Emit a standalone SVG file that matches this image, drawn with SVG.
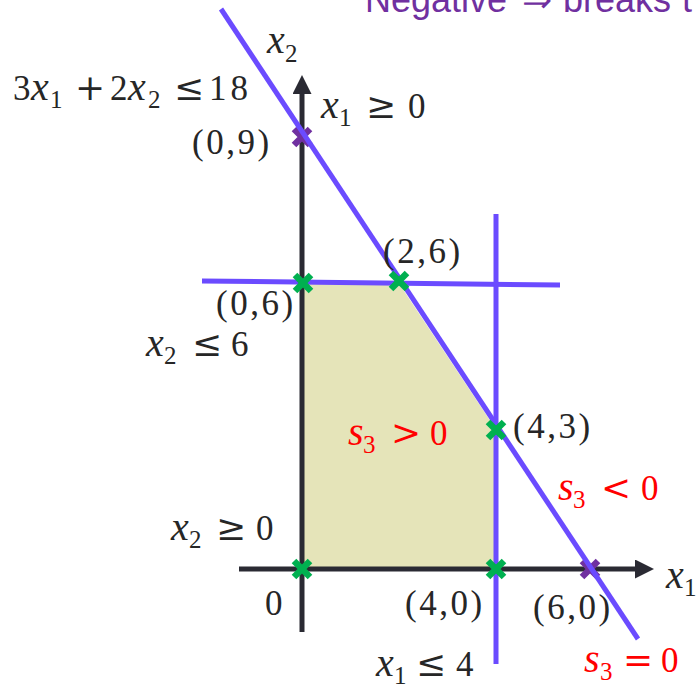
<svg xmlns="http://www.w3.org/2000/svg" xmlns:xlink="http://www.w3.org/1999/xlink" width="697" height="685" viewBox="0 0 697 685">
<style>
.t{font-family:"Liberation Serif","Times New Roman",serif;font-size:35px;fill:#262626}
.i{font-style:italic;font-size:40px}
.sub{font-size:25px}
.op{font-family:"DejaVu Serif","Liberation Serif",serif;font-size:36px}
.c{letter-spacing:2.5px}
.r{fill:#FF0000}
.ax{stroke:#2A2A33;stroke-width:5;fill:none}
.cl{stroke:#6B4BFF;stroke-width:5;fill:none}
.gm{stroke:#00B050;stroke-width:6.5;fill:none}
.pm{stroke:#7030A0;stroke-width:6.5;fill:none}
.hd{font-family:"Liberation Sans",Arial,sans-serif;font-size:36px;fill:#7030A0}
</style>
<defs>
<marker id="arr" markerUnits="userSpaceOnUse" markerWidth="20" markerHeight="20" refX="0" refY="9.5" orient="auto" viewBox="0 0 20 20">
<path d="M0,0 L19,9.5 L0,19 z" fill="#2A2A33"/>
</marker>
<path id="xm" d="M-8,-8 L8,8 M-8,8 L8,-8"/>
</defs>
<rect width="697" height="685" fill="#FFFFFF"/>
<text class="hd" y="12"><tspan x="365">Negative</tspan><tspan x="522">⇒</tspan><tspan x="563">breaks</tspan><tspan x="682">t</tspan></text>
<g id="feasible-region">
<polygon points="303,282 398,282 495,428 495,569 303,569" fill="#E5E4B9"/>
</g>
<g id="connectors">
<line id="y-axis" class="ax" x1="302" y1="632" x2="302" y2="94" marker-end="url(#arr)"/>
<line id="x-axis" class="ax" x1="239" y1="569" x2="635" y2="569" marker-end="url(#arr)"/>
<g id="purple-markers">
<use xlink:href="#xm" class="pm" x="302" y="137"/>
<use xlink:href="#xm" class="pm" x="590" y="569"/>
</g>
<line id="c-diag" class="cl" x1="221" y1="9" x2="638" y2="639"/>
<line id="c-x2le6" class="cl" x1="202" y1="281" x2="560" y2="285"/>
<line id="c-x1le4" class="cl" x1="496" y1="214" x2="496" y2="664"/>
</g>
<g id="vertices">
<use xlink:href="#xm" class="gm" x="303" y="283"/>
<use xlink:href="#xm" class="gm" x="399" y="281"/>
<use xlink:href="#xm" class="gm" x="496" y="430"/>
<use xlink:href="#xm" class="gm" x="302" y="569"/>
<use xlink:href="#xm" class="gm" x="496" y="569"/>
</g>
<g id="labels">
<text class="t"><tspan class="i" x="267" y="53">x</tspan><tspan class="sub" x="285" y="62">2</tspan></text>
<text class="t"><tspan x="13" y="100">3</tspan><tspan class="i" x="31" y="100">x</tspan><tspan class="sub" x="50" y="108">1</tspan><tspan class="op" x="75" y="100">+</tspan><tspan x="110" y="100">2</tspan><tspan class="i" x="128" y="100">x</tspan><tspan class="sub" x="148" y="108">2</tspan><tspan class="op" x="174" y="100">≤</tspan><tspan x="209" y="100" letter-spacing="4">18</tspan></text>
<text class="t"><tspan class="i" x="321" y="118">x</tspan><tspan class="sub" x="339" y="126">1</tspan><tspan class="op" x="366" y="118">≥</tspan><tspan x="408" y="118">0</tspan></text>
<text class="t c" x="192" y="154">(0,9)</text>
<text class="t c" x="383" y="263">(2,6)</text>
<text class="t c" x="216" y="315">(0,6)</text>
<text class="t"><tspan class="i" x="146" y="356">x</tspan><tspan class="sub" x="164" y="364">2</tspan><tspan class="op" x="192" y="356">≤</tspan><tspan x="231" y="356">6</tspan></text>
<text class="t r"><tspan class="i" x="348" y="445">s</tspan><tspan class="sub" x="363" y="453">3</tspan><tspan class="op" x="391" y="445">&gt;</tspan><tspan x="430" y="445">0</tspan></text>
<text class="t c" x="513" y="438">(4,3)</text>
<text class="t r"><tspan class="i" x="558" y="500">s</tspan><tspan class="sub" x="573" y="508">3</tspan><tspan class="op" x="601" y="500">&lt;</tspan><tspan x="641" y="500">0</tspan></text>
<text class="t"><tspan class="i" x="171" y="540">x</tspan><tspan class="sub" x="189" y="548">2</tspan><tspan class="op" x="216" y="540">≥</tspan><tspan x="256" y="540">0</tspan></text>
<text class="t" x="265" y="615">0</text>
<text class="t c" x="405" y="615">(4,0)</text>
<text class="t c" x="533" y="619">(6,0)</text>
<text class="t"><tspan class="i" x="666" y="588">x</tspan><tspan class="sub" x="684" y="596">1</tspan></text>
<text class="t"><tspan class="i" x="376" y="676">x</tspan><tspan class="sub" x="394" y="684">1</tspan><tspan class="op" x="416" y="676">≤</tspan><tspan x="456" y="676">4</tspan></text>
<text class="t r"><tspan class="i" x="584" y="672">s</tspan><tspan class="sub" x="600" y="680">3</tspan><tspan class="op" x="623" y="672">=</tspan><tspan x="661" y="672">0</tspan></text>
</g>
</svg>
